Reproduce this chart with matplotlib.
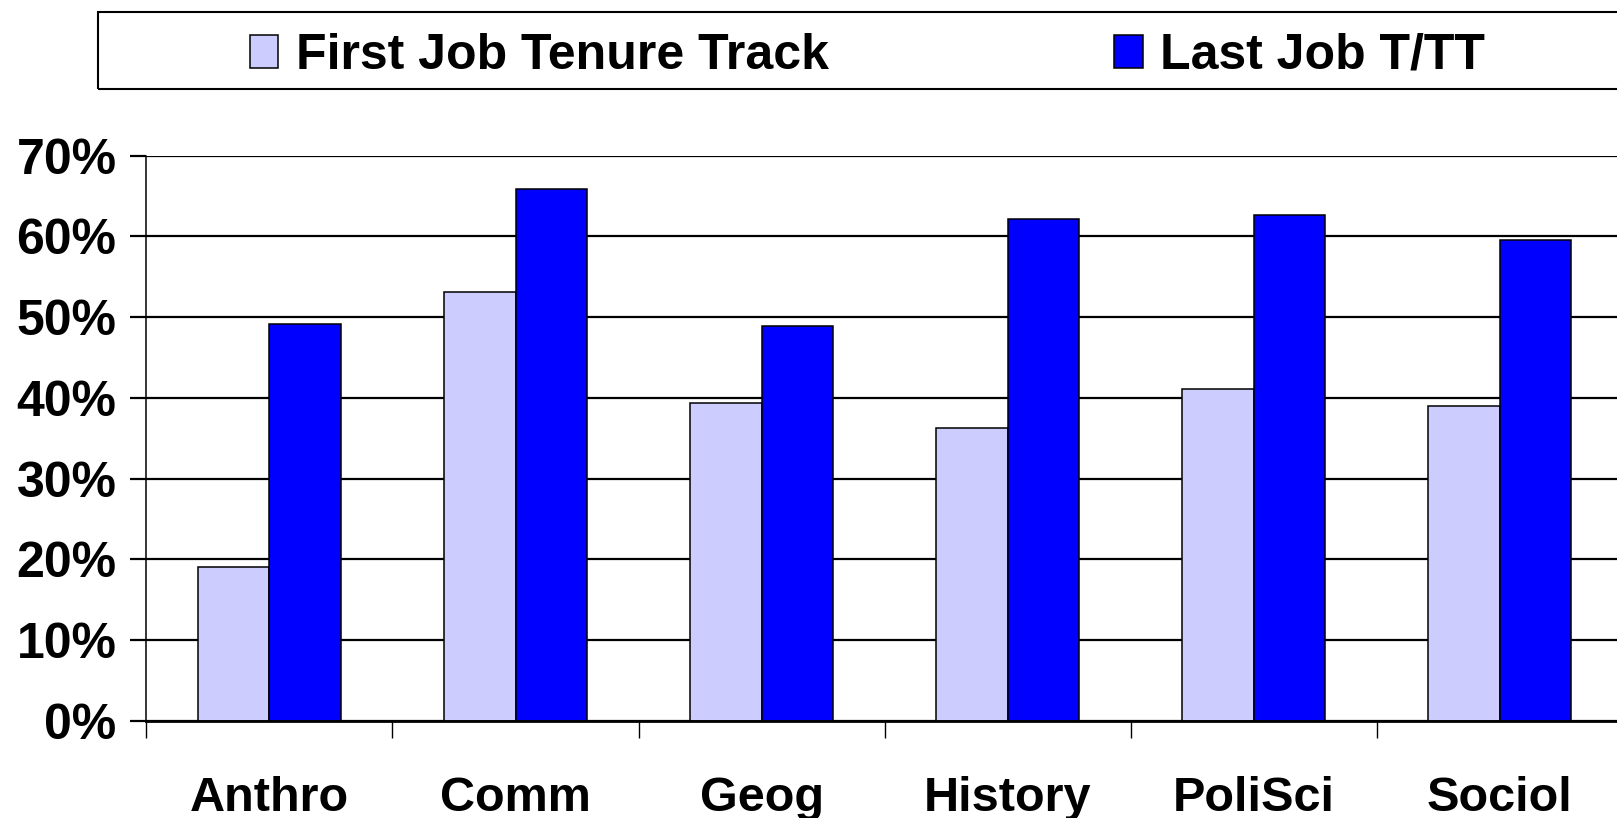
import matplotlib
matplotlib.use("Agg")
import matplotlib.pyplot as plt
from matplotlib.patches import Rectangle
from matplotlib.ticker import FixedLocator, PercentFormatter
import numpy as np

categories = ["Anthro", "Comm", "Geog", "History", "PoliSci", "Sociol"]
first_job = [19.1, 53.1, 39.4, 36.3, 41.1, 39.0]
last_job = [49.2, 65.9, 48.9, 62.2, 62.7, 59.5]
series_names = ["First Job Tenure Track", "Last Job T/TT"]
yticks = [0, 10, 20, 30, 40, 50, 60, 70]

plt.rcParams['font.family'] = ['Liberation Sans', 'DejaVu Sans']
plt.rcParams['font.weight'] = 'bold'

W, H = 1617, 818
fig = plt.figure(figsize=(W / 100, H / 100), dpi=100)
fig.patch.set_facecolor('white')

left = 146.4 / W
right = 1622.8 / W
bottom = (H - 720.7) / H
top = (H - 155.7) / H
ax = fig.add_axes([left, bottom, right - left, top - bottom])

x = np.arange(len(categories))
bw = 0.29
b1 = ax.bar(x - bw / 2, first_job, width=bw, color='#CCCCFF', edgecolor='black',
            linewidth=1.1, zorder=3, label=series_names[0])
b2 = ax.bar(x + bw / 2, last_job, width=bw, color='#0000FF', edgecolor='black',
            linewidth=1.1, zorder=3, label=series_names[1])

ax.set_xlim(-0.5, len(categories) - 0.5)
ax.set_ylim(0, 70)

ax.set_yticks(yticks)
ax.yaxis.set_major_formatter(PercentFormatter(decimals=0))
ax.grid(axis='y', color='black', linewidth=1.6, zorder=0)
ax.set_axisbelow(True)

ax.xaxis.set_major_locator(FixedLocator(np.arange(-0.5, len(categories), 1.0)))
ax.xaxis.set_major_formatter(plt.NullFormatter())
ax.xaxis.set_minor_locator(FixedLocator(x))
ax.set_xticklabels(categories, minor=True)

ax.tick_params(axis='x', which='major', direction='out', length=12, width=1.0, color='black')
ax.tick_params(axis='x', which='minor', length=0, pad=39.5, labelsize=35)
ax.tick_params(axis='y', which='major', direction='out', length=11.5, width=1.6,
               pad=10, labelsize=36)
for lab in ax.get_xticklabels(minor=True) + ax.get_yticklabels():
    lab.set_fontweight('bold')

for s in ['top', 'right']:
    ax.spines[s].set_visible(False)
ax.spines['left'].set_linewidth(1.1)
ax.spines['bottom'].set_linewidth(2.0)
ax.spines['bottom'].set_zorder(4)

# legend frame
fig.patches.append(Rectangle((98 / W, 1 - 89 / H), 1600 / W, 77.3 / H,
                             transform=fig.transFigure, fill=False,
                             edgecolor='black', linewidth=1.5))
leg = fig.legend(handles=[b1, b2], labels=series_names, loc='center left',
                 bbox_to_anchor=(249.5 / W, 1 - 56 / H), ncol=2, frameon=False,
                 borderpad=0, borderaxespad=0, handlelength=0.57, handleheight=0.64,
                 handletextpad=0.36, columnspacing=5.7,
                 prop={'size': 36, 'weight': 'bold'})

fig.savefig("out.png", dpi=100, facecolor='white')
